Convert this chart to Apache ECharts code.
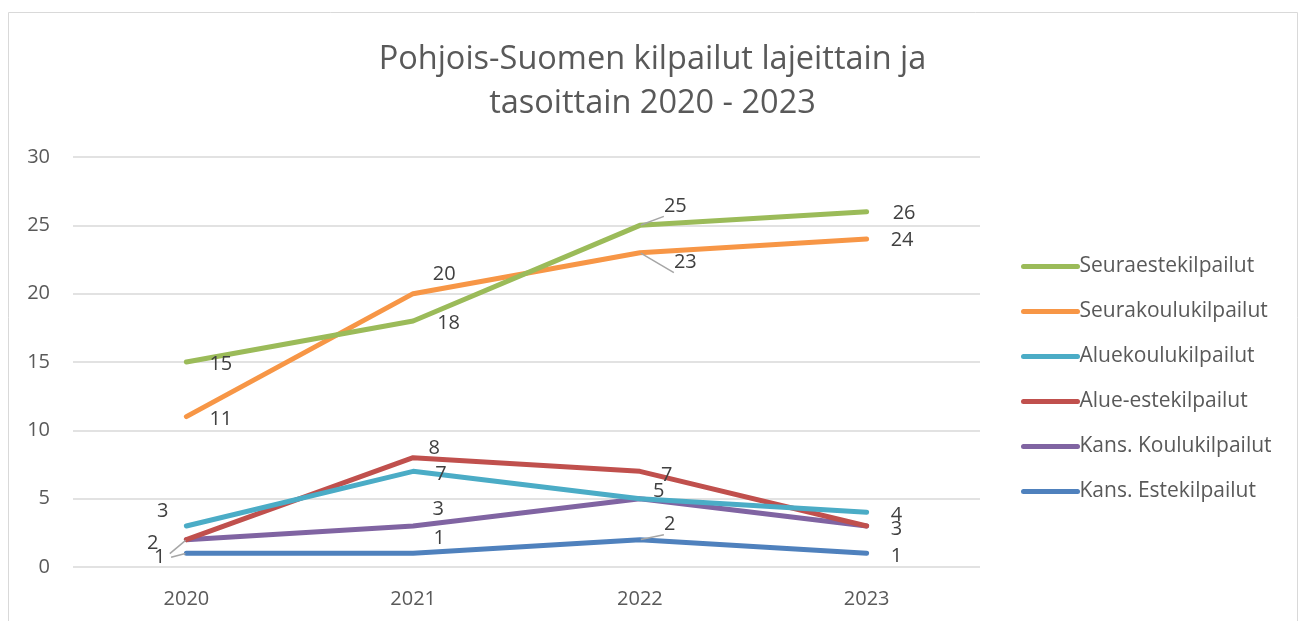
<!DOCTYPE html>
<html>
<head>
<meta charset="utf-8">
<script src="https://cdn.jsdelivr.net/npm/echarts@6/dist/echarts.min.js"></script>
<style>
  html, body { margin: 0; padding: 0; background: #fff; }
  #chart { width: 1305px; height: 621px; }
</style>
</head>
<body>
<div id="chart"></div>
<script>
  const years = ['2020', '2021', '2022', '2023'];
  const seriesNames = ['Seuraestekilpailut', 'Seurakoulukilpailut', 'Aluekoulukilpailut',
    'Alue-estekilpailut', 'Kans. Koulukilpailut', 'Kans. Estekilpailut'];
  const seuraeste = [15, 18, 25, 26];
  const seurakoulu = [11, 20, 23, 24];
  const aluekoulu = [3, 7, 5, 4];
  const alueeste = [2, 8, 7, 3];
  const kansKoulu = [2, 3, 5, 3];
  const kansEste = [1, 1, 2, 1];
  const yTicks = [0, 5, 10, 15, 20, 25, 30];

  const values = [seuraeste, seurakoulu, aluekoulu, alueeste, kansKoulu, kansEste];
  const colors = ['#9BBB59', '#F79646', '#4BACC6', '#C0504D', '#8064A2', '#4F81BD'];

  // label placement per series/point: [position, dx, dy, leader]  (null = hidden)
  const labelPlace = [
    [['right', 17, 2], ['right', 18, 2], ['right', 18, -19, true], ['right', 20, 2]],
    [['right', 17, 3], ['top', 31, -3], ['right', 28, 10, true], ['right', 18, 1]],
    [['left', -12, -15], ['right', 16, 3], ['right', 7, -7], ['right', 18, 3]],
    [['left', -22, 4, true], ['top', 21, 7], ['right', 15, 4], ['right', 18, 3]],
    [null, ['top', 25, -1], null, null],
    [['left', -15, 4, true], ['top', 26, 1], ['right', 18, -15, true], ['right', 18, 3]]
  ];

  const chart = echarts.init(document.getElementById('chart'));
  const font = '"Open Sans", sans-serif';

  const series = seriesNames.map((name, si) => ({
    name: name,
    type: 'line',
    symbol: 'circle',
    symbolSize: 2,
    showSymbol: true,
    z: 10 - si,
    lineStyle: { width: 5, color: colors[si], cap: 'round', join: 'round' },
    itemStyle: { color: 'transparent', borderWidth: 0 },
    labelLine: { show: false, lineStyle: { color: '#a6a6a6', width: 1.5 } },
    data: values[si].map((v, i) => {
      const p = labelPlace[si][i];
      if (!p) return { value: v, label: { show: false } };
      return {
        value: v,
        label: {
          show: true, position: p[0], offset: [p[1], p[2]],
          color: '#404040', fontSize: 20, fontFamily: font
        },
        labelLine: { show: !!p[3] }
      };
    })
  }));

  chart.setOption({
    animation: false,
    color: colors,
    title: {
      text: 'Pohjois-Suomen kilpailut lajeittain ja\ntasoittain 2020 - 2023',
      left: 'center', top: 33,
      textStyle: { color: '#595959', fontSize: 32.5, fontWeight: 'normal', fontFamily: font, lineHeight: 44 }
    },
    graphic: [{
      type: 'rect', shape: { x: 8.5, y: 12.5, width: 1289, height: 640 },
      style: { fill: 'none', stroke: '#d9d9d9', lineWidth: 1 }, silent: true
    }],
    legend: {
      orient: 'vertical', left: 1016, top: 251,
      itemWidth: 54, itemHeight: 26, itemGap: 24,
      lineStyle: { width: 5, cap: 'round' },
      itemStyle: { color: 'transparent' },
      textStyle: { color: '#595959', fontSize: 21, fontFamily: font, padding: [0, 0, 0, -3] },
      data: seriesNames
    },
    grid: { left: 73, right: 325, top: 157, bottom: 54, containLabel: false },
    xAxis: {
      type: 'category', data: years, boundaryGap: true,
      axisLine: { show: false }, axisTick: { show: false },
      axisLabel: { color: '#595959', fontSize: 20, fontFamily: font, margin: 22 }
    },
    yAxis: {
      type: 'value', min: yTicks[0], max: yTicks[yTicks.length - 1], interval: 5,
      axisLine: { show: false }, axisTick: { show: false },
      axisLabel: { color: '#595959', fontSize: 20, fontFamily: font, margin: 23 },
      splitLine: { lineStyle: { color: '#d9d9d9', width: 1.5 } }
    },
    series: series
  });
</script>
</body>
</html>
